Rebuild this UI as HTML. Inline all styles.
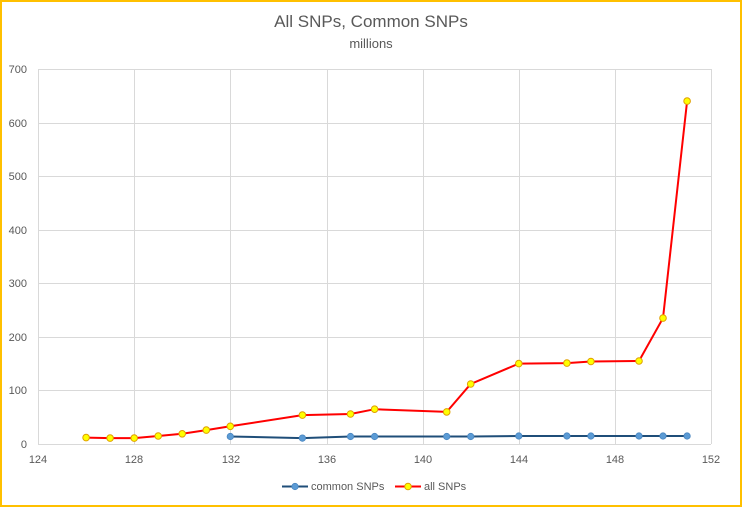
<!DOCTYPE html>
<html><head><meta charset="utf-8"><style>
html,body{margin:0;padding:0;background:#fff}
svg{display:block;font-family:"Liberation Sans",sans-serif}
</style></head><body>
<svg width="742" height="507" viewBox="0 0 742 507">
<rect x="1" y="1" width="740" height="505" fill="#fff" stroke="#ffc000" stroke-width="2"/>
<text x="371" y="27" text-anchor="middle" font-size="17" fill="#595959">All SNPs, Common SNPs</text>
<text x="371" y="48" text-anchor="middle" font-size="13" fill="#595959">millions</text>
<g stroke="#d9d9d9" stroke-width="1">
<line x1="38.5" y1="69" x2="38.5" y2="444"/>
<line x1="134.5" y1="69" x2="134.5" y2="444"/>
<line x1="230.5" y1="69" x2="230.5" y2="444"/>
<line x1="327.5" y1="69" x2="327.5" y2="444"/>
<line x1="423.5" y1="69" x2="423.5" y2="444"/>
<line x1="519.5" y1="69" x2="519.5" y2="444"/>
<line x1="615.5" y1="69" x2="615.5" y2="444"/>
<line x1="711.5" y1="69" x2="711.5" y2="444"/>
<line x1="38" y1="69.5" x2="711" y2="69.5"/>
<line x1="38" y1="123.5" x2="711" y2="123.5"/>
<line x1="38" y1="176.5" x2="711" y2="176.5"/>
<line x1="38" y1="230.5" x2="711" y2="230.5"/>
<line x1="38" y1="283.5" x2="711" y2="283.5"/>
<line x1="38" y1="337.5" x2="711" y2="337.5"/>
<line x1="38" y1="390.5" x2="711" y2="390.5"/>
<line x1="38" y1="444.5" x2="711" y2="444.5"/>
</g>
<g font-size="11" fill="#595959" text-anchor="end">
<text x="27" y="73">700</text><text x="27" y="127">600</text><text x="27" y="180">500</text><text x="27" y="234">400</text><text x="27" y="287">300</text><text x="27" y="341">200</text><text x="27" y="394">100</text><text x="27" y="448">0</text>
</g>
<g font-size="11" fill="#595959" text-anchor="middle">
<text x="38" y="463">124</text><text x="134" y="463">128</text><text x="231" y="463">132</text><text x="327" y="463">136</text><text x="423" y="463">140</text><text x="519" y="463">144</text><text x="615" y="463">148</text><text x="711" y="463">152</text>
</g>
<polyline fill="none" stroke="#1f4e79" stroke-width="2" points="230.3,436.5 302.4,438.1 350.5,436.5 374.6,436.5 446.7,436.5 470.7,436.5 518.8,436 566.9,436 590.9,436 639,436 663,436 687.1,436"/>
<g fill="#5b9bd5" stroke="#4a86c0" stroke-width="0.8">
<circle cx="230.3" cy="436.5" r="3.2"/><circle cx="302.4" cy="438.1" r="3.2"/><circle cx="350.5" cy="436.5" r="3.2"/><circle cx="374.6" cy="436.5" r="3.2"/><circle cx="446.7" cy="436.5" r="3.2"/><circle cx="470.7" cy="436.5" r="3.2"/><circle cx="518.8" cy="436" r="3.2"/><circle cx="566.9" cy="436" r="3.2"/><circle cx="590.9" cy="436" r="3.2"/><circle cx="639" cy="436" r="3.2"/><circle cx="663" cy="436" r="3.2"/><circle cx="687.1" cy="436" r="3.2"/>
</g>
<polyline fill="none" stroke="#ff0000" stroke-width="2" points="86.1,437.6 110.1,438.1 134.2,438.1 158.2,436 182.2,433.8 206.3,430.1 230.3,426.3 302.4,415.1 350.5,414 374.6,409.2 446.7,411.9 470.7,384 518.8,363.6 566.9,363.1 590.9,361.5 639,361 663,318.1 687.1,101.1"/>
<g fill="#ffff00" stroke="#e0a000" stroke-width="1">
<circle cx="86.1" cy="437.6" r="3.3"/><circle cx="110.1" cy="438.1" r="3.3"/><circle cx="134.2" cy="438.1" r="3.3"/><circle cx="158.2" cy="436" r="3.3"/><circle cx="182.2" cy="433.8" r="3.3"/><circle cx="206.3" cy="430.1" r="3.3"/><circle cx="230.3" cy="426.3" r="3.3"/><circle cx="302.4" cy="415.1" r="3.3"/><circle cx="350.5" cy="414" r="3.3"/><circle cx="374.6" cy="409.2" r="3.3"/><circle cx="446.7" cy="411.9" r="3.3"/><circle cx="470.7" cy="384" r="3.3"/><circle cx="518.8" cy="363.6" r="3.3"/><circle cx="566.9" cy="363.1" r="3.3"/><circle cx="590.9" cy="361.5" r="3.3"/><circle cx="639" cy="361" r="3.3"/><circle cx="663" cy="318.1" r="3.3"/><circle cx="687.1" cy="101.1" r="3.3"/>
</g>
<line x1="282" y1="486.5" x2="308" y2="486.5" stroke="#1f4e79" stroke-width="2"/>
<circle cx="295" cy="486.5" r="3.2" fill="#5b9bd5" stroke="#4a86c0" stroke-width="0.8"/>
<text x="311" y="490" font-size="11" fill="#595959">common SNPs</text>
<line x1="395" y1="486.5" x2="421" y2="486.5" stroke="#ff0000" stroke-width="2"/>
<circle cx="408" cy="486.5" r="3.3" fill="#ffff00" stroke="#e0a000" stroke-width="1"/>
<text x="424" y="490" font-size="11" fill="#595959">all SNPs</text>
</svg>
</body></html>
